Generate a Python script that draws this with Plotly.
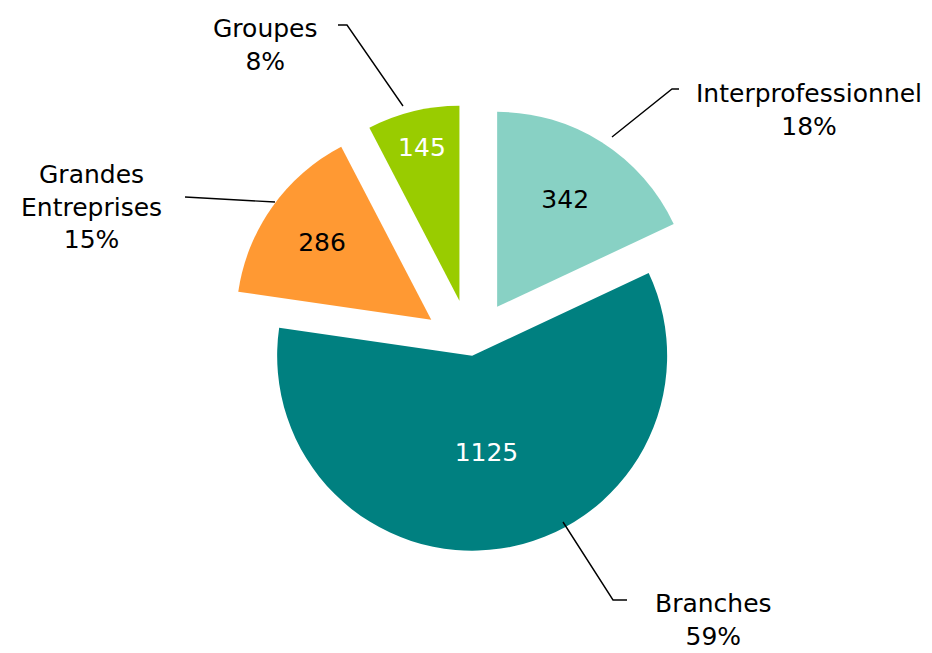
import plotly.graph_objects as go

# ---- data ----
categories = ["Interprofessionnel", "Branches", "Grandes<br>Entreprises", "Groupes"]
values = [342, 1125, 286, 145]

# ---- style ----
colors = ["#88D1C4", "#008080", "#FF9933", "#99CC00"]
inside_text_colors = ["black", "white", "black", "white"]
pulls = [0.25, 0.04, 0.25, 0.25]
FONT = "DejaVu Sans"
W, H = 932, 653

total = sum(values)
pcts = [round(v / total * 100) for v in values]

# pie geometry (pixels): centre & radius
CX, CY, R = 471, 348, 195
box = 2 * R * (1 + max(pulls))
dom_x = [(CX - box / 2) / W, (CX + box / 2) / W]
dom_y = [1 - (CY + box / 2) / H, 1 - (CY - box / 2) / H]

fig = go.Figure(go.Pie(
    labels=categories,
    values=values,
    sort=False,
    direction="clockwise",
    rotation=0,
    pull=pulls,
    marker=dict(colors=colors, line=dict(width=0)),
    texttemplate="%{value}",
    textposition="inside",
    insidetextorientation="horizontal",
    insidetextfont=dict(family=FONT, size=25, color=inside_text_colors),
    hoverinfo="label+value+percent",
    domain=dict(x=dom_x, y=dom_y),
    showlegend=False,
))

# outside label positions (pixel centres) and leader lines (pixel polylines)
label_pos = [(809, 110), (713, 620), (91, 207), (265, 45)]
leaders = [
    [(612, 137), (672, 89), (679, 89)],
    [(563, 522), (613, 600), (627, 600)],
    [(275, 202), (185, 197)],
    [(403, 106), (347, 25), (338, 25)],
]

def px(x):
    return x / W

def py(y):
    return 1 - y / H

annotations = []
for name, p, (lx, ly) in zip(categories, pcts, label_pos):
    annotations.append(dict(
        x=px(lx), y=py(ly), xref="paper", yref="paper",
        text=f"{name}<br>{p}%", showarrow=False,
        xanchor="center", yanchor="middle", align="center",
        font=dict(family=FONT, size=25, color="black"),
    ))

shapes = []
for pts in leaders:
    path = "M " + " L ".join(f"{px(x)},{py(y)}" for x, y in pts)
    shapes.append(dict(type="path", xref="paper", yref="paper", path=path,
                       line=dict(color="black", width=1.4)))

fig.update_layout(
    width=W, height=H,
    margin=dict(l=0, r=0, t=0, b=0),
    paper_bgcolor="white", plot_bgcolor="white",
    annotations=annotations,
    shapes=shapes,
    font=dict(family=FONT),
)

fig.write_html("out.html",
               config={"displayModeBar": False},
               post_script="document.body.style.margin='0px';document.body.style.overflow='hidden';")
